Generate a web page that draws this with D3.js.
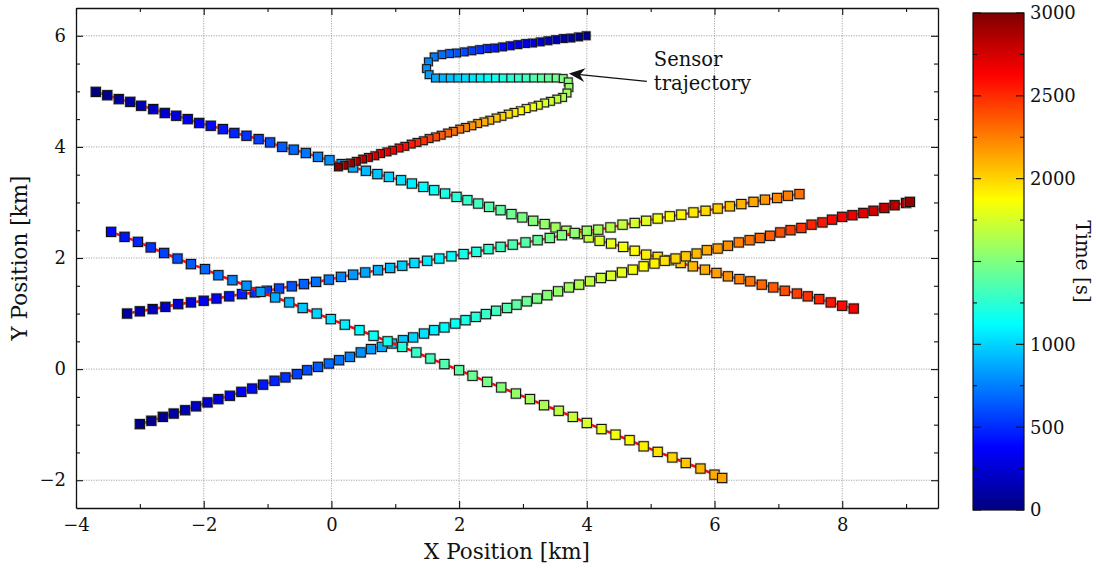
<!DOCTYPE html>
<html>
<head>
<meta charset="utf-8">
<script src="https://cdn.jsdelivr.net/npm/d3@7"></script>
<style>
  body { margin: 0; background: #fff; }
  svg { display: block; }
  text { font-family: "DejaVu Serif", serif; fill: #111; }
</style>
</head>
<body>
<svg id="chart" width="1096" height="568"></svg>
<script>
// ---- data: positions in km, time in s, each point is [x, y, t] ----
const targetA = [
  [-3.69,4.99,0],[-3.51,4.93,40],[-3.33,4.86,80],[-3.15,4.81,120],[-2.98,4.74,160],
  [-2.79,4.68,200],[-2.61,4.61,240],[-2.43,4.56,280],[-2.25,4.50,320],[-2.07,4.43,360],
  [-1.89,4.38,400],[-1.70,4.32,440],[-1.52,4.25,480],[-1.33,4.20,520],[-1.14,4.14,560],
  [-0.96,4.08,600],[-0.77,4.00,640],[-0.59,3.95,680],[-0.40,3.89,720],[-0.21,3.82,760],
  [-0.03,3.76,800],[0.16,3.69,840],[0.34,3.63,880],[0.54,3.57,920],[0.72,3.51,960],
  [0.90,3.46,1000],[1.09,3.40,1040],[1.26,3.34,1080],[1.44,3.28,1120],[1.61,3.22,1160],
  [1.78,3.16,1200],[1.96,3.10,1240],[2.13,3.04,1280],[2.30,2.98,1320],[2.47,2.92,1360],
  [2.65,2.86,1400],[2.82,2.79,1440],[2.99,2.73,1480],[3.16,2.67,1520],[3.34,2.61,1560],
  [3.51,2.55,1600],[3.68,2.49,1640],[3.86,2.43,1680],[4.03,2.37,1720],[4.20,2.31,1760],
  [4.38,2.26,1800],[4.57,2.20,1840],[4.75,2.13,1880],[4.93,2.06,1920],[5.11,2.02,1960],
  [5.29,1.96,2000],[5.47,1.91,2040],[5.66,1.85,2080],[5.85,1.79,2120],[6.03,1.73,2160],
  [6.21,1.67,2200],[6.39,1.62,2240],[6.56,1.58,2280],[6.74,1.52,2320],[6.92,1.47,2360],
  [7.10,1.41,2400],[7.29,1.36,2440],[7.46,1.31,2480],[7.64,1.26,2520],[7.82,1.20,2560],
  [8.00,1.14,2600],[8.18,1.09,2640]
];
const targetB = [
  [-3.20,1.00,100],[-3.00,1.04,140],[-2.80,1.08,180],[-2.60,1.12,220],[-2.40,1.17,260],
  [-2.20,1.20,300],[-2.00,1.23,340],[-1.80,1.27,380],[-1.60,1.31,420],[-1.40,1.35,460],
  [-1.20,1.38,500],[-1.01,1.41,540],[-0.82,1.45,580],[-0.62,1.49,620],[-0.43,1.53,660],
  [-0.24,1.57,700],[-0.04,1.61,740],[0.15,1.66,780],[0.34,1.70,820],[0.53,1.74,860],
  [0.73,1.78,900],[0.92,1.82,940],[1.11,1.86,980],[1.30,1.91,1020],[1.50,1.95,1060],
  [1.69,1.99,1100],[1.88,2.03,1140],[2.07,2.07,1180],[2.27,2.11,1220],[2.46,2.16,1260],
  [2.65,2.20,1300],[2.84,2.24,1340],[3.04,2.28,1380],[3.23,2.32,1420],[3.42,2.36,1460],
  [3.61,2.41,1500],[3.81,2.45,1540],[4.00,2.49,1580],[4.18,2.51,1620],[4.37,2.55,1660],
  [4.56,2.60,1700],[4.75,2.63,1740],[4.93,2.67,1780],[5.11,2.71,1820],[5.30,2.75,1860],
  [5.48,2.78,1900],[5.67,2.82,1940],[5.86,2.85,1980],[6.05,2.89,2020],[6.24,2.93,2060],
  [6.42,2.97,2100],[6.61,3.01,2140],[6.79,3.05,2180],[6.98,3.08,2220],[7.15,3.12,2260],
  [7.33,3.15,2300]
];
const targetC = [
  [-3.00,-0.99,0],[-2.82,-0.93,40],[-2.64,-0.86,80],[-2.47,-0.80,120],[-2.29,-0.74,160],
  [-2.12,-0.67,200],[-1.94,-0.60,240],[-1.77,-0.54,280],[-1.59,-0.48,320],[-1.41,-0.41,360],
  [-1.24,-0.35,400],[-1.07,-0.28,440],[-0.89,-0.21,480],[-0.72,-0.15,520],[-0.54,-0.09,560],
  [-0.38,-0.02,600],[-0.21,0.04,640],[-0.04,0.10,680],[0.12,0.16,720],[0.29,0.22,760],
  [0.46,0.30,800],[0.62,0.36,840],[0.79,0.40,880],[0.95,0.46,920],[1.12,0.52,960],
  [1.28,0.57,1000],[1.45,0.64,1040],[1.61,0.70,1080],[1.77,0.75,1120],[1.94,0.82,1160],
  [2.10,0.88,1200],[2.26,0.94,1240],[2.42,0.99,1280],[2.58,1.05,1320],[2.75,1.10,1360],
  [2.90,1.16,1400],[3.06,1.22,1440],[3.22,1.27,1480],[3.38,1.33,1520],[3.55,1.40,1560],
  [3.72,1.47,1600],[3.88,1.52,1640],[4.05,1.58,1680],[4.22,1.64,1720],[4.38,1.68,1760],
  [4.55,1.74,1800],[4.72,1.79,1840],[4.89,1.85,1880],[5.06,1.90,1920],[5.22,1.95,1960],
  [5.39,1.99,2000],[5.55,2.03,2040],[5.72,2.08,2080],[5.88,2.14,2120],[6.05,2.17,2160],
  [6.21,2.22,2200],[6.38,2.28,2240],[6.55,2.32,2280],[6.71,2.36,2320],[6.87,2.40,2360],
  [7.03,2.46,2400],[7.19,2.50,2440],[7.36,2.54,2480],[7.52,2.60,2520],[7.69,2.64,2560],
  [7.84,2.69,2600],[8.00,2.74,2640],[8.16,2.77,2680],[8.33,2.81,2720],[8.49,2.85,2760],
  [8.66,2.90,2800],[8.82,2.95,2840],[9.00,2.99,2880],[9.06,3.01,2930]
];
const targetD = [
  [-3.45,2.47,400],[-3.24,2.38,440],[-3.03,2.29,480],[-2.83,2.19,520],[-2.62,2.09,560],
  [-2.41,1.99,600],[-2.20,1.89,640],[-1.98,1.80,680],[-1.77,1.69,720],[-1.55,1.60,760],
  [-1.33,1.50,800],[-1.11,1.39,840],[-0.88,1.29,880],[-0.66,1.20,920],[-0.45,1.10,960],
  [-0.23,1.00,1000],[-0.01,0.90,1040],[0.21,0.80,1080],[0.44,0.70,1120],[0.66,0.60,1160],
  [0.88,0.50,1200],[1.11,0.40,1240],[1.33,0.30,1280],[1.55,0.19,1320],[1.77,0.09,1360],
  [2.00,-0.02,1400],[2.21,-0.12,1440],[2.44,-0.23,1480],[2.66,-0.33,1520],[2.89,-0.44,1560],
  [3.11,-0.54,1600],[3.33,-0.65,1640],[3.56,-0.75,1680],[3.78,-0.86,1720],[4.00,-0.97,1760],
  [4.23,-1.08,1800],[4.45,-1.18,1840],[4.67,-1.28,1880],[4.89,-1.39,1920],[5.11,-1.49,1960],
  [5.34,-1.59,2000],[5.55,-1.69,2040],[5.78,-1.79,2080],[6.00,-1.90,2120],[6.12,-1.96,2140]
];
const sensorPath = [
  [3.99,6.00,0],[3.87,5.98,37],[3.75,5.96,73],[3.63,5.95,110],[3.51,5.93,146],
  [3.39,5.91,183],[3.27,5.89,220],[3.15,5.87,256],[3.04,5.86,293],[2.92,5.84,329],
  [2.80,5.82,366],[2.68,5.80,402],[2.56,5.78,439],[2.44,5.77,476],[2.32,5.75,512],
  [2.20,5.73,549],[2.08,5.71,585],[1.96,5.69,622],[1.85,5.68,659],[1.73,5.66,695],
  [1.61,5.62,732],[1.52,5.53,768],[1.49,5.41,805],[1.53,5.30,841],[1.63,5.24,878],
  [1.75,5.24,915],[1.86,5.24,951],[1.98,5.24,988],[2.10,5.24,1024],[2.22,5.24,1061],
  [2.33,5.24,1098],[2.45,5.24,1134],[2.57,5.24,1171],[2.69,5.24,1207],[2.81,5.24,1244],
  [2.93,5.24,1280],[3.05,5.24,1317],[3.17,5.24,1354],[3.29,5.24,1390],[3.40,5.24,1427],
  [3.52,5.24,1463],[3.63,5.23,1500],[3.71,5.17,1537],[3.72,5.07,1573],[3.69,4.97,1610],
  [3.62,4.89,1646],[3.53,4.86,1683],[3.43,4.82,1720],[3.34,4.79,1756],[3.24,4.75,1793],
  [3.15,4.72,1829],[3.05,4.69,1866],[2.96,4.65,1902],[2.86,4.62,1939],[2.77,4.59,1976],
  [2.67,4.55,2012],[2.58,4.52,2049],[2.48,4.48,2085],[2.39,4.45,2122],[2.29,4.42,2159],
  [2.20,4.38,2195],[2.10,4.35,2232],[2.01,4.32,2268],[1.91,4.28,2305],[1.82,4.25,2341],
  [1.72,4.21,2378],[1.63,4.18,2415],[1.53,4.15,2451],[1.44,4.11,2488],[1.34,4.08,2524],
  [1.25,4.05,2561],[1.15,4.01,2598],[1.06,3.98,2634],[0.96,3.94,2671],[0.87,3.91,2707],
  [0.77,3.88,2744],[0.68,3.84,2780],[0.58,3.81,2817],[0.49,3.78,2854],[0.39,3.74,2890],
  [0.30,3.71,2927],[0.20,3.67,2963],[0.11,3.64,3000]
];

// axis ticks
const xMajor = [-4, -2, 0, 2, 4, 6, 8];
const xMinor = [-3, -1, 1, 3, 5, 7, 9];
const yMajor = [-2, 0, 2, 4, 6];
const yMinor = [-1.5, -1, -0.5, 0.5, 1, 1.5, 2.5, 3, 3.5, 4.5, 5, 5.5];
const timeLabeled = [0, 500, 1000, 2000, 2500, 3000];
const timeTicks = d3.range(0, 3001, 250);

// jet colormap anchors (time in s)
const jetStops = [0, 375, 1125, 1875, 2625, 3000];
const jetColors = ["#000080", "#0000ff", "#00ffff", "#ffff00", "#ff0000", "#800000"];

// annotation
const noteText = ["Sensor", "trajectory"];
const noteTip = [3.72, 5.32];
const noteTail = [4.94, 5.18];

// ---- layout ----
const svg = d3.select("#chart");
const plot = { left: 76, right: 938, top: 8, bottom: 508 };
const bar = { left: 973, width: 51, top: 13, bottom: 510 };

const x = d3.scaleLinear([-4, 9.5], [plot.left, plot.right]);
const y = d3.scaleLinear([-2.5, 6.5], [plot.bottom, plot.top]);
const color = d3.scaleLinear(jetStops, jetColors).clamp(true);
const tScale = d3.scaleLinear([0, 3000], [bar.bottom, bar.top]);

const defs = svg.append("defs");
defs.append("clipPath").attr("id", "plotClip").append("rect")
  .attr("x", plot.left).attr("y", plot.top)
  .attr("width", plot.right - plot.left).attr("height", plot.bottom - plot.top);

// grid
const grid = svg.append("g").attr("stroke", "#9c9c9c").attr("stroke-width", 0.9)
  .attr("stroke-dasharray", "1.2,1.3");
grid.selectAll(".gx").data(xMajor.filter(v => v > -4)).join("line")
  .attr("x1", d => x(d)).attr("x2", d => x(d))
  .attr("y1", plot.top).attr("y2", plot.bottom);
grid.selectAll(".gy").data(yMajor).join("line")
  .attr("y1", d => y(d)).attr("y2", d => y(d))
  .attr("x1", plot.left).attr("x2", plot.right);

// tracks
const layer = svg.append("g").attr("clip-path", "url(#plotClip)");
const line = d3.line().x(d => x(d[0])).y(d => y(d[1]));

function drawMarkers(g, pts, size) {
  const s = size, h = s / 2;
  const m = g.selectAll("g.m").data(pts).join("g").attr("class", "m")
    .attr("transform", d => `translate(${x(d[0])},${y(d[1])})`);
  m.append("rect").attr("x", -h - 1.2).attr("y", -h - 1.2)
    .attr("width", s + 2.4).attr("height", s + 2.4)
    .attr("fill", "#8a8a8a").attr("fill-opacity", 0.5);
  m.append("rect").attr("x", -h).attr("y", -h).attr("width", s).attr("height", s)
    .attr("fill", d => color(d[2])).attr("stroke", "#101010").attr("stroke-width", 1);
}

[targetA, targetB, targetC, targetD].forEach(track => {
  const g = layer.append("g");
  g.append("path").datum(track).attr("d", line)
    .attr("fill", "none").attr("stroke", "#ff0000").attr("stroke-width", 2.6);
  drawMarkers(g, track, 9.2);
});
drawMarkers(layer.append("g"), sensorPath, 7.8);

// axes
function styleAxis(g) {
  g.select(".domain").attr("stroke", "#111").attr("stroke-width", 1.3);
  g.selectAll(".tick line").attr("stroke", "#111").attr("stroke-width", 1.1);
  g.selectAll(".tick text").attr("font-family", "DejaVu Serif").attr("font-size", 18).attr("fill", "#111");
}
const axes = [
  [d3.axisBottom(x).tickValues(xMajor), `translate(0,${plot.bottom})`, true],
  [d3.axisTop(x).tickValues(xMajor), `translate(0,${plot.top})`, false],
  [d3.axisLeft(y).tickValues(yMajor), `translate(${plot.left},0)`, true],
  [d3.axisRight(y).tickValues(yMajor), `translate(${plot.right},0)`, false]
];
axes.forEach(([ax, tr, labels]) => {
  ax.tickSizeInner(-7).tickSizeOuter(0).tickPadding(labels ? 10 : 0);
  if (!labels) ax.tickFormat("");
  svg.append("g").attr("transform", tr).call(ax).call(styleAxis);
});
const minorAxes = [
  [d3.axisBottom(x).tickValues(xMinor), `translate(0,${plot.bottom})`],
  [d3.axisTop(x).tickValues(xMinor), `translate(0,${plot.top})`],
  [d3.axisLeft(y).tickValues(yMinor), `translate(${plot.left},0)`],
  [d3.axisRight(y).tickValues(yMinor), `translate(${plot.right},0)`]
];
minorAxes.forEach(([ax, tr]) => {
  ax.tickSizeInner(-4).tickSizeOuter(0).tickFormat("");
  const g = svg.append("g").attr("transform", tr).call(ax).call(styleAxis);
  g.select(".domain").remove();
});

// axis titles
svg.append("text").attr("x", (plot.left + plot.right) / 2).attr("y", 559)
  .attr("text-anchor", "middle").attr("font-size", 21.5).text("X Position [km]");
svg.append("text")
  .attr("transform", `translate(27,${(plot.top + plot.bottom) / 2}) rotate(-90)`)
  .attr("text-anchor", "middle").attr("font-size", 21.5).text("Y Position [km]");

// annotation
const tip = [x(noteTip[0]), y(noteTip[1])];
const tail = [x(noteTail[0]), y(noteTail[1])];
const ang = Math.atan2(tip[1] - tail[1], tip[0] - tail[0]);
const ux = Math.cos(ang), uy = Math.sin(ang), nx = -uy, ny = ux;
const L = 16, W = 7, N = 11;
svg.append("line").attr("x1", tail[0]).attr("y1", tail[1])
  .attr("x2", tip[0] - ux * N).attr("y2", tip[1] - uy * N)
  .attr("stroke", "#111").attr("stroke-width", 1.2);
svg.append("path").attr("fill", "#111").attr("d",
  `M${tip[0]},${tip[1]}` +
  `L${tip[0] - ux * L + nx * W},${tip[1] - uy * L + ny * W}` +
  `L${tip[0] - ux * N},${tip[1] - uy * N}` +
  `L${tip[0] - ux * L - nx * W},${tip[1] - uy * L - ny * W}Z`);
svg.append("text").attr("x", x(5.05)).attr("y", y(5.45)).attr("font-size", 19.5).text(noteText[0]);
svg.append("text").attr("x", x(5.05)).attr("y", y(5.03)).attr("font-size", 19.5).text(noteText[1]);

// colorbar
const grad = defs.append("linearGradient").attr("id", "jet")
  .attr("x1", 0).attr("y1", 1).attr("x2", 0).attr("y2", 0);
grad.selectAll("stop").data(jetStops).join("stop")
  .attr("offset", d => d / 3000).attr("stop-color", d => color(d));
svg.append("rect").attr("x", bar.left).attr("y", bar.top)
  .attr("width", bar.width).attr("height", bar.bottom - bar.top)
  .attr("fill", "url(#jet)").attr("stroke", "#111").attr("stroke-width", 1.2);
const cb = svg.append("g").attr("stroke", "#111").attr("stroke-width", 1.1);
timeTicks.forEach(t => {
  const len = t % 500 === 0 ? 8 : 4;
  const yy = tScale(t);
  cb.append("line").attr("x1", bar.left).attr("x2", bar.left + len).attr("y1", yy).attr("y2", yy);
  cb.append("line").attr("x1", bar.left + bar.width - len).attr("x2", bar.left + bar.width).attr("y1", yy).attr("y2", yy);
});
svg.append("g").selectAll("text").data(timeLabeled).join("text")
  .attr("x", bar.left + bar.width + 6).attr("y", d => tScale(d)).attr("dy", "0.36em")
  .attr("font-size", 18).text(d => d);
svg.append("text")
  .attr("transform", `translate(1076,${(bar.top + bar.bottom) / 2}) rotate(90)`)
  .attr("text-anchor", "middle").attr("font-size", 20).text("Time [s]");
</script>
</body>
</html>
